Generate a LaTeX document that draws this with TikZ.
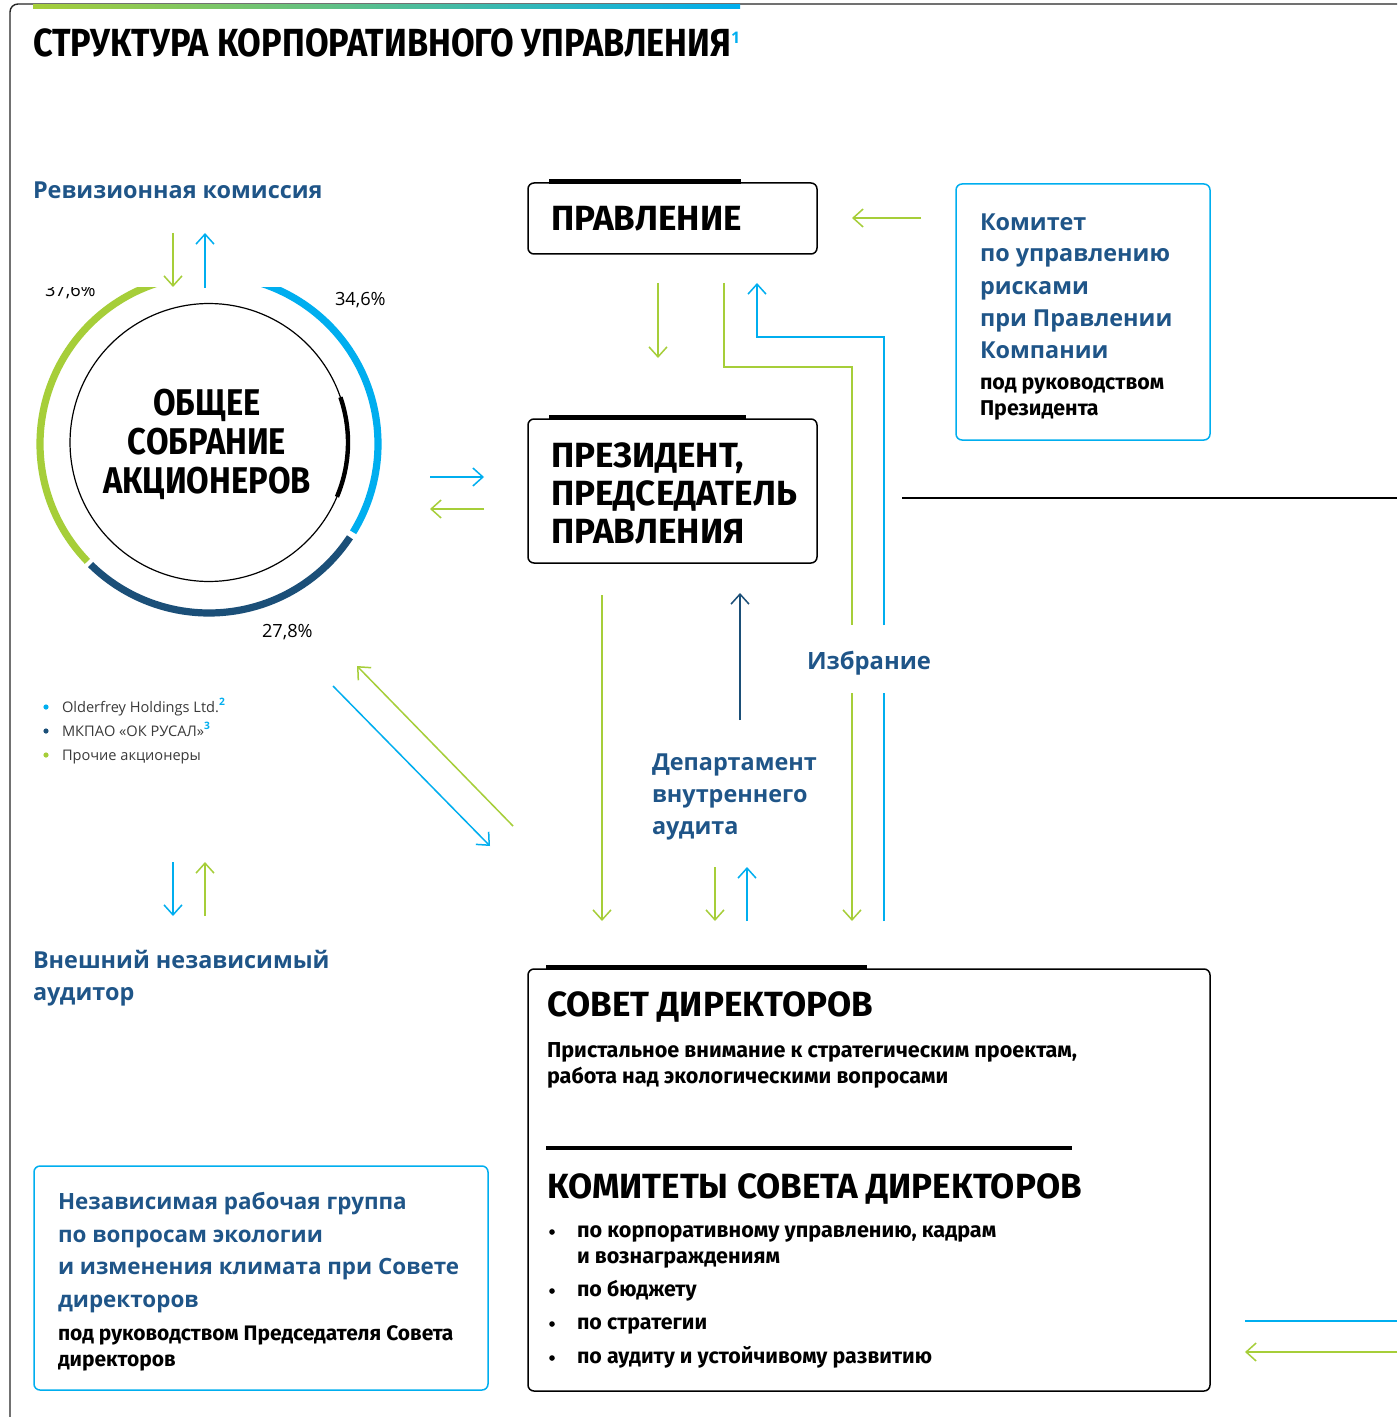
\documentclass[tikz,border=0pt]{standalone}
\usepackage{fontspec}
\setmainfont{Open Sans}
\newfontfamily\din{Fira Sans}
\usetikzlibrary{arrows.meta}
\definecolor{cgreen}{HTML}{A6CE39}
\definecolor{ccyan}{HTML}{00AEEF}
\definecolor{cdark}{HTML}{1B4F78}
\definecolor{ctext}{HTML}{1F5588}
\definecolor{cgray}{HTML}{3A3A3A}
\begin{document}
\begin{tikzpicture}[x=0.5pt,y=-0.5pt,
  every node/.style={inner sep=0pt,outer sep=0pt},
  tip/.style={-{Straight Barb[length=5pt,width=9pt]}},
  gl/.style={cgreen,line width=0.75pt},
  cl/.style={ccyan,line width=0.75pt},
  dl/.style={cdark,line width=0.75pt},
  blk/.style={draw=black,line width=0.75pt,rounded corners=3pt},
  cbox/.style={draw=ccyan,line width=0.75pt,rounded corners=3pt},
  bar/.style={line width=2.5pt,black},
  bluehead/.style={anchor=base west,align=left,text=ctext,font=\fontsize{11.7}{16}\selectfont\bfseries},
  subhead/.style={anchor=base west,align=left,text=black,font=\din\fontsize{10.7}{12.6}\selectfont\bfseries},
  boxtitle/.style={anchor=base west,align=left,text=black,font=\din\fontsize{17.5}{19}\selectfont\bfseries},
  legend/.style={anchor=base west,text=cgray,font=\fontsize{7.3}{9}\selectfont},
  pct/.style={anchor=base west,text=black,font=\fontsize{9.1}{10}\selectfont},
]
\useasboundingbox[fill=white] (0,0) rectangle (1397,1417);
% outer frame and top bar
\draw[line width=0.7pt,black!85,rounded corners=4pt] (1397,4) -- (10,4) -- (10,1417);
\shade[left color=cgreen,right color=ccyan] (33,5) rectangle (740,9);
\node[anchor=base west] (title) at (33,57) {\scalebox{0.875}[1]{\din\fontsize{19.6}{20}\selectfont\bfseries СТРУКТУРА КОРПОРАТИВНОГО УПРАВЛЕНИЯ}};
\node[anchor=base west,text=ccyan,font=\fontsize{8}{9}\selectfont\bfseries] (fn1) at (731,44) {1};

% Revision commission
\node[bluehead] (rev) at (33,199) {Ревизионная комиссия};
\coordinate (revA) at (173,233); \coordinate (revB) at (173,287);
\coordinate (revC) at (205,288); \coordinate (revD) at (205,233);
\draw[gl,tip] (revA) -- (revB);
\draw[cl,tip] (revC) -- (revD);

% ring
\begin{scope}
\clip (0,288) rectangle (420,700);
\draw[cgreen,line width=3.6pt] plot[domain=136:272,samples=80] ({209+169*cos(\x)},{444+169*sin(\x)});
\draw[ccyan,line width=3.6pt] plot[domain=268:391.5,samples=80] ({209+169*cos(\x)},{444+169*sin(\x)});
\draw[cdark,line width=3.6pt] plot[domain=33.5:134.5,samples=80] ({209+169*cos(\x)},{444+169*sin(\x)});
\node[pct] (p376) at (45,297) {37,6\%};
\end{scope}
\node[pct] (p346) at (335,306) {34,6\%};
\node[pct] (p278) at (262,637) {27,8\%};
\draw[black,line width=0.6pt] plot[domain=0:360,samples=150] ({209+139*cos(\x)},{442.5+139*sin(\x)});
\draw[black,line width=2.2pt] plot[domain=-19:23,samples=30] ({209+139*cos(\x)},{442.5+139*sin(\x)});
\node[anchor=base,align=center,font=\din\fontsize{18.6}{19.5}\selectfont\bfseries] (gsm) at (207,493) {\scalebox{0.88}[1]{ОБЩЕЕ}\\\scalebox{0.88}[1]{СОБРАНИЕ}\\\scalebox{0.88}[1]{АКЦИОНЕРОВ}};

% legend
\fill[ccyan] (46,707) circle[radius=2.6];
\fill[cdark] (46,731) circle[radius=2.6];
\fill[cgreen] (46,755) circle[radius=2.6];
\node[legend] (l1) at (62,712) {Olderfrey Holdings Ltd.\textsuperscript{\color{ccyan}\bfseries 2}};
\node[legend] (l2) at (62,736) {МКПАО «ОК РУСАЛ»\textsuperscript{\color{ccyan}\bfseries 3}};
\node[legend] (l3) at (62,760) {Прочие акционеры};

% arrows circle <-> president
\coordinate (h1a) at (430,477); \coordinate (h1b) at (484,477);
\coordinate (h2a) at (484,509); \coordinate (h2b) at (430,509);
\draw[cl,tip] (h1a) -- (h1b);
\draw[gl,tip] (h2a) -- (h2b);

% diagonal arrows
\coordinate (d1a) at (333,686); \coordinate (d1b) at (490,846);
\coordinate (d2a) at (513,826); \coordinate (d2b) at (357,666);
\draw[cl,tip] (d1a) -- (d1b);
\draw[gl,tip] (d2a) -- (d2b);

% auditor arrows
\coordinate (a1a) at (173,862); \coordinate (a1b) at (173,916);
\coordinate (a2a) at (205,916); \coordinate (a2b) at (205,862);
\draw[cl,tip] (a1a) -- (a1b);
\draw[gl,tip] (a2a) -- (a2b);
\node[bluehead] (aud) at (33,1000) {Внешний независимый\\аудитор};

% working group box
\draw[cbox] (34,1166) rectangle (488,1390);
\node[bluehead,font=\fontsize{11.2}{16.2}\selectfont\bfseries] (wg) at (58,1307) {Независимая рабочая группа\\по вопросам экологии\\и изменения климата при Совете\\директоров};
\node[subhead,font=\din\fontsize{10.5}{12.6}\selectfont\bfseries] (wgs) at (58,1366) {под руководством Председателя Совета\\директоров};

% Pravlenie
\draw[blk] (528,183) rectangle (817,254);
\draw[bar] (549,181.5) -- (741,181.5);
\node[boxtitle] (prav) at (551,231) {ПРАВЛЕНИЕ};
\coordinate (k1a) at (921,218); \coordinate (k1b) at (852,218);
\draw[gl,tip] (k1a) -- (k1b);

% Committee box
\draw[cbox] (956,184) rectangle (1210,440);
\node[bluehead] (kom) at (980,358) {Комитет\\по управлению\\рисками\\при Правлении\\Компании};
\node[subhead] (koms) at (980,415) {под руководством\\Президента};

% president box
\draw[blk] (528,419) rectangle (817,563);
\draw[bar] (549,417.5) -- (746,417.5);
\node[boxtitle] (pres) at (551,543) {ПРЕЗИДЕНТ,\\ПРЕДСЕДАТЕЛЬ\\ПРАВЛЕНИЯ};
\coordinate (ln1) at (902,497.5); \coordinate (ln2) at (1397,497.5);
\draw[black,line width=1pt] (ln1) -- (ln2);

% Pravlenie -> President
\coordinate (pp1) at (658,283); \coordinate (pp2) at (658,358);
\draw[gl,tip] (pp1) -- (pp2);

% election lines
\coordinate (e1) at (724,283); \coordinate (e2) at (852,625);
\coordinate (e3) at (852,693); \coordinate (e4) at (852,921);
\draw[gl] (e1) |- (852,367) -- (e2);
\draw[gl,tip] (e3) -- (e4);
\coordinate (f1) at (884,921); \coordinate (f2) at (884,693);
\coordinate (f3) at (884,625); \coordinate (f4) at (757,283);
\draw[cl] (f1) -- (f2);
\draw[cl,tip] (f3) -- (884,337) -| (f4);
\node[anchor=base,text=ctext,font=\fontsize{11.9}{16}\selectfont\bfseries] (izb) at (869,669) {Избрание};

% president <-> board
\coordinate (g1) at (602,595); \coordinate (g2) at (602,921);
\draw[gl,tip] (g1) -- (g2);
\coordinate (v1) at (740,720); \coordinate (v2) at (740,593);
\draw[dl,tip] (v1) -- (v2);
\node[bluehead] (dep) at (652,834) {Департамент\\внутреннего\\аудита};
\coordinate (q1) at (715,867); \coordinate (q2) at (715,921);
\coordinate (q3) at (747,921); \coordinate (q4) at (747,867);
\draw[gl,tip] (q1) -- (q2);
\draw[cl,tip] (q3) -- (q4);

% board box
\draw[blk] (528,969) rectangle (1210,1391);
\draw[bar] (546,967.5) -- (867,967.5);
\node[boxtitle] (sov) at (547,1016) {СОВЕТ ДИРЕКТОРОВ};
\node[subhead,font=\din\fontsize{10.8}{13}\selectfont\bfseries] (sovs) at (547,1083) {Пристальное внимание к стратегическим проектам,\\работа над экологическими вопросами};
\draw[line width=2pt,black] (546,1148) -- (1072,1148);
\node[boxtitle] (kst) at (547,1198) {КОМИТЕТЫ СОВЕТА ДИРЕКТОРОВ};
\foreach \y in {1232,1291,1324,1358} \fill[black] (552,\y) circle[radius=2.8];
\node[subhead,font=\din\fontsize{10.8}{13}\selectfont\bfseries] (b1) at (577,1263) {по корпоративному управлению, кадрам\\и вознаграждениям};
\node[subhead] (b2) at (577,1296) {по бюджету};
\node[subhead] (b3) at (577,1329) {по стратегии};
\node[subhead] (b4) at (577,1363) {по аудиту и устойчивому развитию};

% bottom right lines
\coordinate (r1) at (1245,1321); \coordinate (r2) at (1397,1321);
\draw[cl] (r1) -- (r2);
\coordinate (r3) at (1397,1352); \coordinate (r4) at (1245,1352);
\draw[gl,tip] (r3) -- (r4);
\end{tikzpicture}
\end{document}
